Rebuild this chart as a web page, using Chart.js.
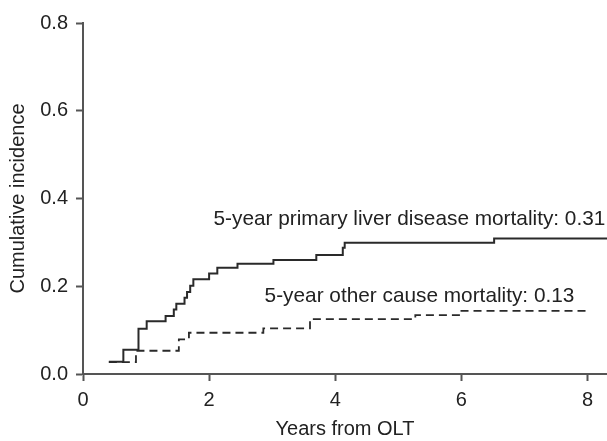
<!DOCTYPE html>
<html>
<head>
<meta charset="utf-8">
<script src="https://cdn.jsdelivr.net/npm/chart.js@4.4.1/dist/chart.umd.min.js"></script>
<style>
  html, body { margin: 0; padding: 0; background: #fff; }
  #wrap { width: 607px; height: 441px; }
</style>
</head>
<body>
<div id="wrap"><canvas id="chart" width="607" height="441"></canvas></div>
<script>
// primary liver disease mortality (solid step line)
const liverYears = [0.41, 0.64, 0.88, 1.01, 1.31, 1.44, 1.48, 1.61, 1.65, 1.70, 1.75, 2.00, 2.13, 2.45, 3.02, 3.70, 4.12, 4.15, 6.52, 8.31]
const liverInc = [0.028, 0.055, 0.103, 0.120, 0.132, 0.147, 0.160, 0.174, 0.187, 0.201, 0.216, 0.229, 0.242, 0.251, 0.260, 0.271, 0.288, 0.299, 0.309, 0.309]

// other cause mortality (dashed step line)
const otherYears = [0.41, 0.84, 1.52, 1.68, 2.86, 3.60, 5.27, 5.98, 7.99]
const otherInc = [0.027, 0.053, 0.079, 0.094, 0.104, 0.125, 0.134, 0.144, 0.144]

const xTicks = [0, 2, 4, 6, 8]
const yTicks = [0.0, 0.2, 0.4, 0.6, 0.8]

const notes = [
    {text: "5-year primary liver disease mortality: 0.31", x: 2.07, y: 0.34},
    {text: "5-year other cause mortality: 0.13", x: 2.88, y: 0.165}
]

const FONT = "'Liberation Sans', Arial, Helvetica, sans-serif"
const TXT = "#222"
const AXIS = "#555"

const toPoints = (xs, ys) => xs.map((x, i) => ({x: x, y: ys[i]}))

const notesPlugin = {
    id: "notes",
    afterDatasetsDraw(chart) {
        const ctx = chart.ctx
        const sx = chart.scales.x
        const sy = chart.scales.y
        ctx.save()
        ctx.font = `20.8px ${FONT}`
        ctx.fillStyle = TXT
        ctx.textAlign = "left"
        ctx.textBaseline = "alphabetic"
        notes.forEach(n => {
            ctx.fillText(n.text, sx.getPixelForValue(n.x), sy.getPixelForValue(n.y))
        })
        ctx.restore()
    }
}

const axisCommon = {
    grid: {display: true, drawOnChartArea: false, drawTicks: true, tickLength: 7, tickWidth: 2, tickColor: AXIS},
    border: {display: true, color: AXIS, width: 2}
}

const ctx = document.getElementById("chart").getContext("2d")
new Chart(ctx, {
    type: "line",
    data: {
        datasets: [
            {
                data: toPoints(liverYears, liverInc),
                stepped: "before",
                borderColor: "#2a2a2a",
                borderWidth: 2,
                pointRadius: 0,
                fill: false
            },
            {
                data: toPoints(otherYears, otherInc),
                stepped: "before",
                borderColor: "#2a2a2a",
                borderWidth: 1.8,
                borderDash: [8, 5],
                pointRadius: 0,
                fill: false
            }
        ]
    },
    options: {
        responsive: false,
        animation: false,
        events: [],
        layout: {padding: {top: 23, right: 0, bottom: 0, left: 0}},
        plugins: {legend: {display: false}, tooltip: {enabled: false}},
        scales: {
            x: {
                ...axisCommon,
                type: "linear",
                min: 0,
                max: 8.31,
                afterBuildTicks: s => { s.ticks = xTicks.map(v => ({value: v})) },
                afterFit: s => { s.height = 67 },
                ticks: {color: TXT, font: {family: FONT, size: 20}, padding: 7, maxRotation: 0},
                title: {display: true, text: "Years from OLT", color: TXT, font: {family: FONT, size: 20}, padding: {top: 0, bottom: 0}}
            },
            y: {
                ...axisCommon,
                type: "linear",
                min: 0,
                max: 0.8,
                afterBuildTicks: s => { s.ticks = yTicks.map(v => ({value: v})) },
                afterFit: s => { s.width = 83 },
                ticks: {color: TXT, font: {family: FONT, size: 20}, padding: 8, callback: v => v.toFixed(1)},
                title: {display: true, text: "Cumulative incidence", color: TXT, font: {family: FONT, size: 20}, padding: {top: 6, bottom: 0}}
            }
        }
    },
    plugins: [notesPlugin]
})
</script>
</body>
</html>
